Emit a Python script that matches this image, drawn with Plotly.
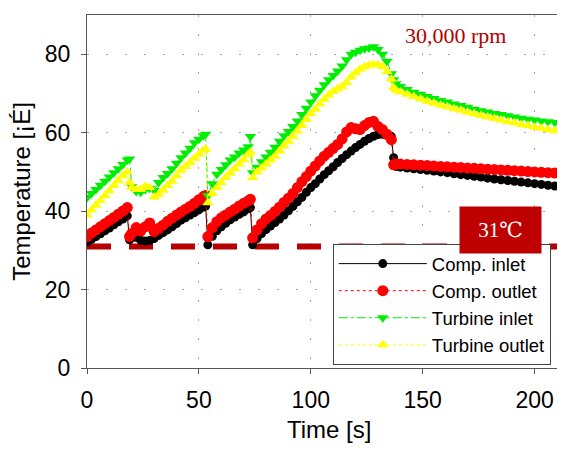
import plotly.graph_objects as go

# time axis [s], shared by all four sensors
time_s = [
    0, 2, 4, 6, 8, 10, 12, 14, 16, 18,
    19,
    20, 22, 24, 26, 28, 30, 32, 34, 36, 38, 40, 42, 44, 46, 48, 50, 52,
    53,
    54, 56, 58, 60, 62, 64, 66, 68, 70, 72,
    73,
    74, 76, 78, 80, 82, 84, 86, 88, 90, 92, 94, 96, 98, 100, 102, 104,
    106, 108, 110, 112, 114, 116, 118, 120, 122, 124, 126, 128, 130,
    132, 134, 136,
    137,
    138, 140, 143, 146, 149, 152, 155, 158, 161, 164, 167, 170, 173,
    176, 179, 182, 185, 188, 191, 194, 197, 200, 203, 206, 209,
]

comp_inlet = [
    32.2, 32.8, 33.5, 34.2, 35.0, 35.7, 36.5, 37.3, 38.0, 38.8,
    32.7,
    33.2, 33.3, 32.6, 32.4, 32.5, 33.0, 33.8, 34.5, 35.2, 36.0, 36.8, 37.7, 38.3, 39.0, 39.6, 40.3, 41.0,
    41.3,
    31.4, 33.6, 35.0, 36.0, 36.9, 37.8, 38.5, 39.2, 39.8, 40.6,
    40.9,
    31.4, 33.0, 34.3, 35.3, 36.2, 37.1, 38.0, 39.0, 40.1, 41.2, 42.4, 43.5, 44.8, 46.0, 47.0, 48.2,
    49.3, 50.3, 51.3, 52.4, 53.4, 54.4, 55.3, 56.2, 57.0, 57.8, 58.5, 59.1, 59.5,
    59.6, 59.4, 59.0,
    53.6,
    51.4, 51.2, 51.0, 50.8, 50.6, 50.4, 50.2, 50.0, 49.8, 49.5, 49.3, 49.1, 48.9,
    48.7, 48.4, 48.2, 48.0, 47.8, 47.6, 47.4, 47.2, 47.0, 46.8, 46.6, 46.4,
]

comp_outlet = [
    33.5, 34.4, 35.2, 36.0, 36.8, 37.6, 38.4, 39.2, 40.0, 40.9,
    33.5,
    34.3, 35.8, 34.9, 36.0, 37.0, 34.8, 35.6, 36.4, 37.4, 38.2, 39.0, 39.8, 40.5, 41.2, 42.0, 42.9, 43.7,
    44.0,
    33.5, 35.8, 37.3, 38.3, 39.0, 39.8, 40.5, 41.3, 42.0, 42.6,
    43.0,
    33.2, 35.2, 36.8, 38.0, 38.9, 39.9, 41.0, 42.2, 43.3, 44.5, 46.0, 47.5, 48.8, 50.2, 51.5, 52.8,
    54.0, 55.0, 56.0, 57.0, 58.4, 60.2, 61.3, 61.0, 60.8, 61.8, 62.6, 62.9, 61.6,
    60.8, 59.6, 58.2,
    51.8,
    52.0, 52.0, 51.9, 51.8, 51.7, 51.6, 51.5, 51.4, 51.3, 51.2, 51.1, 51.0, 50.9,
    50.8, 50.7, 50.6, 50.5, 50.4, 50.3, 50.2, 50.1, 50.0, 49.9, 49.8, 49.7,
]

turbine_inlet = [
    43.5, 44.5, 45.5, 46.6, 47.6, 48.7, 49.8, 50.8, 51.9, 53.0,
    53.3,
    46.3, 45.0, 44.8, 45.5, 45.8, 45.3, 47.3, 48.6, 49.6, 50.8, 52.2, 53.6, 54.8, 56.0, 57.4, 58.3, 59.2,
    59.6,
    44.0, 47.0, 49.4, 50.6, 51.8, 53.0, 53.8, 54.8, 55.6, 56.4,
    59.0,
    49.8, 51.2, 52.6, 53.8, 55.0, 56.3, 57.8, 59.2, 60.3, 61.6, 63.0, 64.6, 66.2, 67.8, 69.4, 70.8,
    72.2, 73.5, 74.6, 75.7, 77.0, 78.6, 80.0, 80.5, 81.0, 81.4, 81.6, 81.9, 81.2,
    80.0, 78.2, 75.0,
    73.5,
    72.5, 71.8, 71.0, 70.3, 69.7, 69.2, 68.7, 68.2, 67.8, 67.3, 66.9, 66.5, 66.0,
    65.6, 65.3, 64.9, 64.6, 64.3, 64.0, 63.7, 63.4, 63.2, 63.0, 62.8, 62.6,
]

turbine_outlet = [
    39.0, 40.3, 41.5, 42.7, 44.0, 45.2, 46.5, 47.8, 49.0, 50.0,
    47.3,
    46.0, 45.5, 45.6, 46.3, 46.0, 43.6, 44.3, 45.3, 46.5, 47.6, 49.0, 50.4, 51.4, 52.4, 53.5, 54.5, 55.5,
    55.8,
    42.1, 44.5, 46.0, 47.2, 48.6, 49.7, 50.8, 52.0, 53.1, 54.4,
    55.0,
    48.5, 50.0, 51.0, 52.0, 53.0, 54.0, 55.3, 56.6, 57.8, 59.0, 60.4, 61.8, 63.3, 64.8, 66.0, 67.3,
    68.5, 69.6, 70.5, 71.2, 71.8, 72.8, 74.2, 75.3, 76.2, 76.8, 77.2, 77.4, 77.3,
    76.8, 75.6, 73.6,
    71.5,
    70.8, 70.4, 69.8, 69.2, 68.6, 68.0, 67.5, 67.0, 66.6, 66.1, 65.7, 65.2, 64.8,
    64.4, 64.0, 63.6, 63.2, 62.8, 62.5, 62.1, 61.8, 61.4, 61.1, 60.8, 60.5,
]

# 31 C critical temperature line
crit_t = [0, 210]
crit_temp = [31, 31]

DARK_RED = "#b40000"
FONT = "Liberation Sans, Arial, sans-serif"
SERIF = "Liberation Serif, DejaVu Serif, serif"

fig = go.Figure()

fig.add_trace(go.Scatter(
    x=crit_t, y=crit_temp, mode="lines", showlegend=False,
    line=dict(color=DARK_RED, width=6, dash="24px,18px"),
))

series = [
    ("Comp. inlet",    comp_inlet,     "#000000", "solid",   "circle",        9),
    ("Comp. outlet",   comp_outlet,    "#ff0000", "dot",     "circle",        11),
    ("Turbine inlet",  turbine_inlet,  "#00ee00", "dashdot", "triangle-down", 10),
    ("Turbine outlet", turbine_outlet, "#ffff00", "dot",     "triangle-up",   10),
]
for name, vals, color, dash, symbol, size in series:
    fig.add_trace(go.Scatter(
        x=time_s, y=vals, name=name, mode="lines+markers",
        line=dict(color=color, width=1, dash=dash),
        marker=dict(color=color, symbol=symbol, size=size, line=dict(width=0)),
    ))

fig.add_annotation(
    x=0.783, y=0.943, xref="paper", yref="paper", showarrow=False,
    xanchor="center", yanchor="middle",
    text="30,000 rpm", font=dict(family=SERIF, size=22, color=DARK_RED),
)
fig.add_annotation(
    x=0.880, y=0.391, xref="paper", yref="paper", showarrow=False,
    xanchor="center", yanchor="middle",
    text="31℃", font=dict(family=SERIF, size=21, color="#ffffff"),
    bgcolor="#bf0000", width=81, height=46, borderpad=0,
)
# x title as annotation so it sits where the original (wider) plot centred it
fig.add_annotation(
    x=0.515, y=-0.174, xref="paper", yref="paper", showarrow=False,
    xanchor="center", yanchor="middle",
    text="Time [s]", font=dict(size=24, color="#000000"),
)

axis_common = dict(
    showline=True, linecolor="#555555", linewidth=1, mirror=True,
    ticks="outside", ticklen=5, tickcolor="#555555",
    showgrid=True, gridcolor="#a8a8a8", gridwidth=1, griddash="2px,17px",
    zeroline=False, tickfont=dict(size=23, color="#000000"), automargin=False,
)

# page body offsets the figure by 8px; keep the figure inside the window so no scrollbars
fig.update_xaxes(range=[0, 210], tick0=0, dtick=50, ticklabelstandoff=6,
                 ticklabeloverflow="allow", **axis_common)
fig.update_yaxes(range=[0, 90], tick0=0, dtick=20, ticklabelstandoff=6,
                 title=dict(text="Temperature [¡É]", font=dict(size=24, color="#000000"), standoff=12),
                 **axis_common)

fig.update_layout(
    width=549, height=437,
    margin=dict(l=79, r=0, t=7, b=77),
    paper_bgcolor="#ffffff", plot_bgcolor="#ffffff",
    font=dict(family=FONT, color="#000000"),
    legend=dict(
        x=0.523, y=0.351, xanchor="left", yanchor="top",
        bgcolor="#ffffff", bordercolor="#444444", borderwidth=1,
        font=dict(size=18.5, color="#000000"), itemwidth=88, tracegroupgap=0,
    ),
)

fig.write_html("out.html")
